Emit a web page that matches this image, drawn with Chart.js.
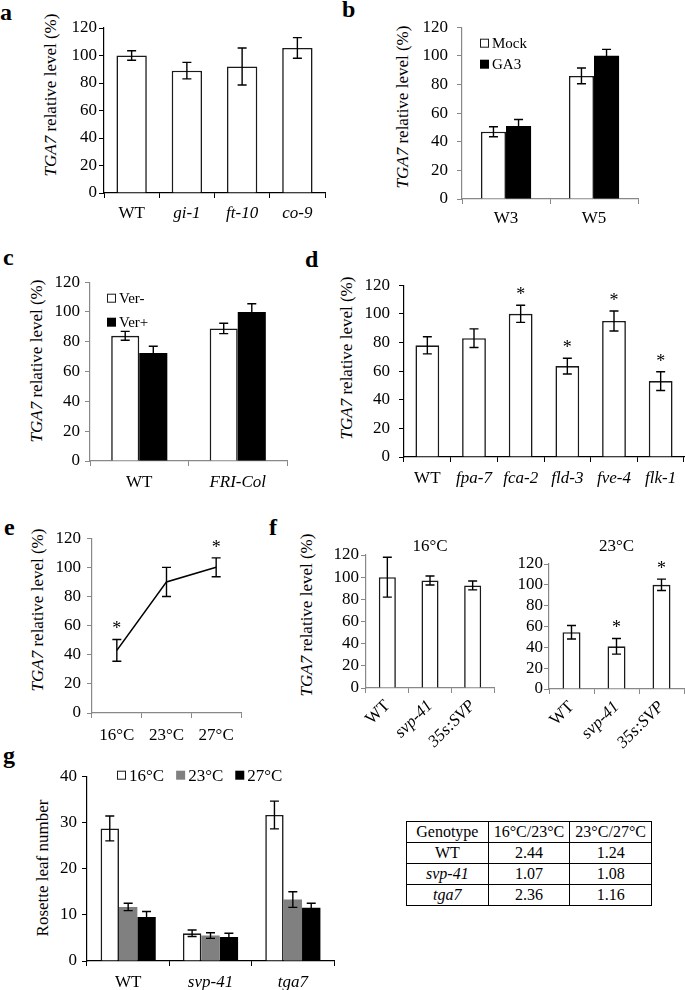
<!DOCTYPE html>
<html><head><meta charset="utf-8">
<script src="https://cdn.jsdelivr.net/npm/chart.js@4.4.1/dist/chart.umd.min.js"></script>
<style>
html,body{margin:0;padding:0;background:#fff;}
body{width:685px;height:990px;position:relative;overflow:hidden;font-family:'Liberation Serif',serif;color:#000;}
canvas{position:absolute;}
.lbl{position:absolute;font-weight:bold;font-size:24px;line-height:1;}
.yt{position:absolute;font-size:17px;white-space:nowrap;line-height:1;transform:translate(-50%,-50%) rotate(-90deg);}
#tbl{position:absolute;border-collapse:collapse;font-size:16px;table-layout:fixed;width:246px;}
#tbl td{border:1.5px solid #000;text-align:center;height:20px;padding:0;line-height:20px;}
</style></head><body>
<div class="lbl" style="left:0px;top:0px">a</div>
<div class="lbl" style="left:342px;top:-3px">b</div>
<div class="lbl" style="left:3px;top:245px">c</div>
<div class="lbl" style="left:305px;top:247px">d</div>
<div class="lbl" style="left:4px;top:515px">e</div>
<div class="lbl" style="left:269px;top:515px">f</div>
<div class="lbl" style="left:3px;top:743px">g</div>
<div class="yt" style="left:50px;top:95px"><i>TGA7</i> relative level (%)</div>
<div class="yt" style="left:402px;top:107px"><i>TGA7</i> relative level (%)</div>
<div class="yt" style="left:36px;top:361px"><i>TGA7</i> relative level (%)</div>
<div class="yt" style="left:346px;top:358px"><i>TGA7</i> relative level (%)</div>
<div class="yt" style="left:37px;top:610px"><i>TGA7</i> relative level (%)</div>
<div class="yt" style="left:306px;top:615px"><i>TGA7</i> relative level (%)</div>
<div class="yt" style="left:42px;top:868px">Rosette leaf number</div>
<table id="tbl" style="left:406px;top:821px"></table>
<script>
const SERIF = "'Liberation Serif',serif";

// ---- data ----
const aCats = ['WT','gi-1','ft-10','co-9'];
const aVals = [100, 89, 92, 105.5];
const aErrs = [3.5, 6, 13.5, 7.5];

const bCats = ['W3','W5'];
const bMock = [47, 86];
const bMockErr = [3.5, 5.5];
const bGA3 = [51, 100];
const bGA3Err = [4.5, 4.5];

const cCats = ['WT','FRI-Col'];
const cVerMinus = [84, 89];
const cVerMinusErr = [3, 3.5];
const cVerPlus = [72.5, 100];
const cVerPlusErr = [4.5, 5.5];

const dCats = ['WT','fpa-7','fca-2','fld-3','fve-4','flk-1'];
const dVals = [78, 83, 100, 63.5, 95, 53];
const dErrs = [6, 6.5, 6, 5.5, 7, 6.5];
const dStars = [false, false, true, true, true, true];

const eCats = ['16°C','23°C','27°C'];
const eVals = [43, 90, 100];
const eErrs = [7.5, 10, 6.5];
const eStars = [true, false, true];

const fCats = ['WT','svp-41','35s:SVP'];
const f16Vals = [100, 97, 92.5];
const f16Errs = [18, 4, 4];
const f23Vals = [54.5, 41, 100];
const f23Errs = [6.5, 7.5, 5.5];
const f23Stars = [false, true, true];

const gCats = ['WT','svp-41','tga7'];
const g16 = [28.7, 6, 31.6];
const g16Err = [2.7, 0.7, 3];
const g23 = [11.7, 5.5, 13.3];
const g23Err = [0.8, 0.6, 1.7];
const g27 = [9.5, 5.2, 11.5];
const g27Err = [1.2, 0.8, 1];

const tHeader = ['Genotype','16°C/23°C','23°C/27°C'];
const tGenotypes = ['WT','svp-41','tga7'];
const tRatio1623 = ['2.44','1.07','2.36'];
const tRatio2327 = ['1.24','1.08','1.16'];

// ---- plugins ----
const errPlugin = {
  id:'errbars',
  afterDatasetsDraw(chart){
    const ctx = chart.ctx, ys = chart.scales.y;
    chart.data.datasets.forEach((ds,i)=>{
      if(!ds.errors) return;
      const meta = chart.getDatasetMeta(i);
      meta.data.forEach((el,j)=>{
        const v = ds.data[j], e = ds.errors[j];
        const yt = ys.getPixelForValue(v+e), yb = ys.getPixelForValue(v-e);
        const cap = 4.5;
        ctx.save();
        ctx.strokeStyle='#000'; ctx.lineWidth=1.4;
        ctx.beginPath();
        ctx.moveTo(el.x,yt); ctx.lineTo(el.x,yb);
        ctx.moveTo(el.x-cap,yt); ctx.lineTo(el.x+cap,yt);
        ctx.moveTo(el.x-cap,yb); ctx.lineTo(el.x+cap,yb);
        ctx.stroke();
        if(ds.stars && ds.stars[j]){
          ctx.fillStyle='#000'; ctx.font='18px '+SERIF;
          ctx.textAlign='center'; ctx.textBaseline='alphabetic';
          ctx.fillText('*', el.x, yt-5);
        }
        ctx.restore();
      });
    });
  }
};
const boxLegend = {
  id:'boxLegend',
  afterDraw(chart, args, opts){
    if(!opts || !opts.display) return;
    const ctx = chart.ctx, ca = chart.chartArea;
    ctx.save();
    ctx.font = opts.size+'px '+SERIF;
    ctx.textBaseline='middle'; ctx.textAlign='left';
    let x = ca.left + opts.x, y = ca.top + opts.y;
    const b = opts.box;
    chart.data.datasets.forEach(ds=>{
      ctx.fillStyle = ds.backgroundColor;
      ctx.fillRect(x, y-b/2, b, b);
      if(ds.borderWidth>0){
        ctx.strokeStyle = ds.borderColor; ctx.lineWidth = 1;
        ctx.strokeRect(x+0.5, y-b/2+0.5, b-1, b-1);
      }
      ctx.fillStyle = '#000';
      ctx.fillText(ds.label, x+b+3, y+1);
      if(opts.dir==='h') x += b + 3 + ctx.measureText(ds.label).width + opts.gap;
      else y += opts.gap;
    });
    ctx.restore();
  }
};
Chart.register(errPlugin, boxLegend);

// ---- helpers ----
function place(geo){
  const cv = document.createElement('canvas');
  const w = geo.yw + (geo.x1-geo.x0) + geo.pr;
  const h = geo.pt + (geo.y1-geo.y0) + geo.xh;
  cv.width = w; cv.height = h;
  Object.assign(cv.style,{left:(geo.x0-geo.yw)+'px',top:(geo.y0-geo.pt)+'px',width:w+'px',height:h+'px'});
  document.body.appendChild(cv);
  return cv;
}
function axes(geo,o){
  const col = o.axisColor;
  return {
    x:{type:'category', offset:true,
      grid:{offset:true,drawOnChartArea:false,drawTicks:true,tickLength:5,color:col,lineWidth:1},
      border:{display:true,color:col,width:1.2},
      ticks:{autoSkip:false,maxRotation:o.rot||0,minRotation:o.rot||0,padding:o.xpad,color:'#000',
        font:c=>({family:SERIF,size:17,style:(o.italicFrom!=null && c.index>=o.italicFrom)?'italic':'normal'})},
      afterFit:s=>{s.height=geo.xh;}
    },
    y:{min:0,max:o.max,
      ticks:{stepSize:o.step,autoSkip:false,padding:o.ypad,color:'#000',font:{family:SERIF,size:17}},
      grid:{drawOnChartArea:false,drawTicks:true,tickLength:5,color:col,lineWidth:1},
      border:{display:true,color:col,width:1.2},
      afterFit:s=>{s.width=geo.yw;}
    }
  };
}
function make(geo, type, labels, datasets, o){
  const cv = place(geo);
  const plugins = {legend:{display:false}, tooltip:{enabled:false}, boxLegend:o.legend||{display:false}};
  if(o.title){
    plugins.title = {display:true,text:o.title,fullSize:false,color:'#000',
      font:{family:SERIF,size:17,weight:'normal',lineHeight:1},padding:{top:0,bottom:o.titlePad}};
  }
  return new Chart(cv,{
    type, data:{labels, datasets},
    options:{responsive:false, animation:false,
      layout:{padding:{left:0,top:o.title?0:geo.pt,right:geo.pr,bottom:0}},
      plugins, scales:axes(geo,o),
      datasets:{bar:{categoryPercentage:o.cp||1, barPercentage:o.bp||1}}
    }
  });
}
const WHITE = {backgroundColor:'#fff', borderColor:'#1a1a1a', borderWidth:1.6};
const BLACK = {backgroundColor:'#000', borderColor:'#000', borderWidth:0};
const GRAY = {backgroundColor:'#808080', borderColor:'#808080', borderWidth:0};

// a
make({x0:104,x1:325,y0:28,y1:193,yw:60,pt:16,pr:6,xh:34},'bar',aCats,
  [Object.assign({label:'a',data:aVals,errors:aErrs},WHITE)],
  {axisColor:'#000',max:120,step:20,xpad:5,ypad:2,italicFrom:1,cp:1,bp:0.55});
// b
make({x0:462,x1:638,y0:22,y1:199,yw:60,pt:14,pr:6,xh:34},'bar',bCats,
  [Object.assign({label:'Mock',data:bMock,errors:bMockErr},WHITE),
   Object.assign({label:'GA3',data:bGA3,errors:bGA3Err},BLACK)],
  {axisColor:'#888',max:120,step:20,xpad:4,ypad:9,cp:0.57,bp:1,
   legend:{display:true,x:18,y:16,dir:'v',gap:21,box:9,size:15}});
// c
make({x0:90,x1:287,y0:281,y1:461,yw:60,pt:14,pr:6,xh:34},'bar',cCats,
  [Object.assign({label:'Ver-',data:cVerMinus,errors:cVerMinusErr},WHITE),
   Object.assign({label:'Ver+',data:cVerPlus,errors:cVerPlusErr},BLACK)],
  {axisColor:'#888',max:120,step:20,xpad:6,ypad:5,italicFrom:1,cp:0.57,bp:1,
   legend:{display:true,x:17,y:16,dir:'v',gap:24,box:9,size:15}});
// d
make({x0:404,x1:684,y0:280,y1:457,yw:60,pt:14,pr:1,xh:34},'bar',dCats,
  [Object.assign({label:'d',data:dVals,errors:dErrs,stars:dStars},WHITE)],
  {axisColor:'#000',max:120,step:20,xpad:6,ypad:9,italicFrom:1,cp:1,bp:0.51});
// e
make({x0:92,x1:241,y0:536,y1:713,yw:60,pt:14,pr:6,xh:36},'line',eCats,
  [{label:'e',data:eVals,errors:eErrs,stars:eStars,borderColor:'#000',borderWidth:1.6,pointRadius:0,tension:0,fill:false}],
  {axisColor:'#888',max:120,step:20,xpad:7,ypad:6,cp:1,bp:1});
// f 16
make({x0:366,x1:494,y0:555,y1:688,yw:44,pt:17,pr:4,xh:66},'bar',fCats,
  [Object.assign({label:'16',data:f16Vals,errors:f16Errs},WHITE)],
  {axisColor:'#888',max:120,step:20,xpad:3,ypad:2,italicFrom:1,cp:1,bp:0.40,rot:45,title:'16°C',titlePad:0});
// f 23
make({x0:549,x1:684,y0:564,y1:689,yw:44,pt:26,pr:1,xh:66},'bar',fCats,
  [Object.assign({label:'23',data:f23Vals,errors:f23Errs,stars:f23Stars},WHITE)],
  {axisColor:'#888',max:120,step:20,xpad:3,ypad:1,italicFrom:1,cp:1,bp:0.40,rot:45,title:'23°C',titlePad:9});
// g
make({x0:87,x1:334,y0:775,y1:961,yw:60,pt:14,pr:6,xh:29},'bar',gCats,
  [Object.assign({label:'16°C',data:g16,errors:g16Err},WHITE),
   Object.assign({label:'23°C',data:g23,errors:g23Err},GRAY),
   Object.assign({label:'27°C',data:g27,errors:g27Err},BLACK)],
  {axisColor:'#000',max:40,step:10,xpad:6,ypad:5,italicFrom:1,cp:0.67,bp:1,
   legend:{display:true,x:30,y:-1,dir:'h',gap:12,box:9,size:17}});

// table
const tbl = document.getElementById('tbl');
function row(cells, italicFirst){
  const tr = document.createElement('tr');
  cells.forEach((c,i)=>{
    const td = document.createElement('td');
    if(i===0 && italicFirst){ const it=document.createElement('i'); it.textContent=c; td.appendChild(it); }
    else td.textContent = c;
    tr.appendChild(td);
  });
  tbl.appendChild(tr);
}
row(tHeader,false);
tGenotypes.forEach((gname,i)=>row([gname,tRatio1623[i],tRatio2327[i]], gname!=='WT'));
</script>
</body></html>
